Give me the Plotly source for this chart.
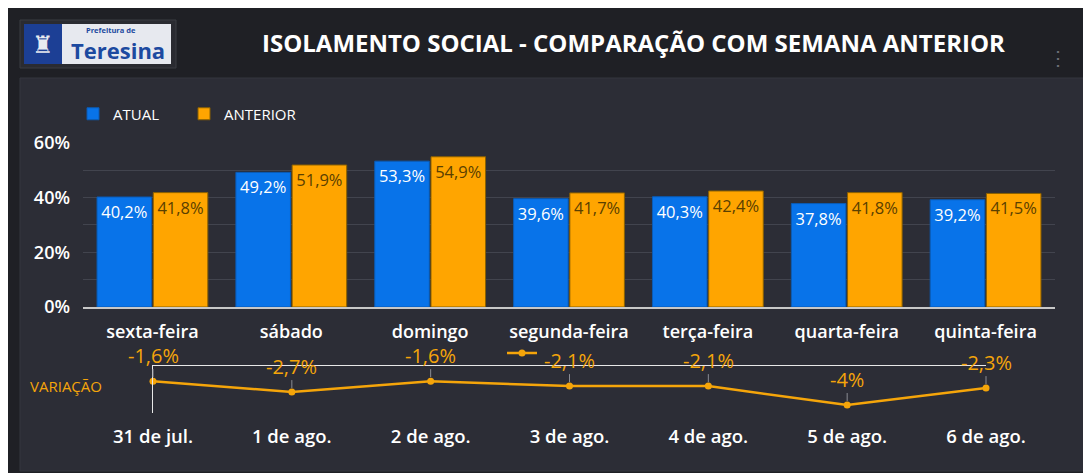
import plotly.graph_objects as go

W, H = 1091, 473

# data
dias = ["sexta-feira", "sábado", "domingo", "segunda-feira", "terça-feira", "quarta-feira", "quinta-feira"]
datas = ["31 de jul.", "1 de ago.", "2 de ago.", "3 de ago.", "4 de ago.", "5 de ago.", "6 de ago."]
atual = [40.2, 49.2, 53.3, 39.6, 40.3, 37.8, 39.2]
anterior = [41.8, 51.9, 54.9, 41.7, 42.4, 41.8, 41.5]
variacao = [-1.6, -2.7, -1.6, -2.1, -2.1, -4.0, -2.3]

BG = "#1f2025"
PANEL = "#2c2d36"
BLUE = "#0873e9"
ORANGE = "#ffa500"
LINE_OR = "#f5a50a"
FONT = "Open Sans"


def px(x):
    return x / W


def py(y):
    return 1 - y / H


def box(x0, y0, x1, y1, fill, line_color=None):
    return dict(type="rect", xref="paper", yref="paper",
                x0=px(x0), x1=px(x1), y0=py(y1), y1=py(y0),
                fillcolor=fill, layer="below",
                line=dict(color=line_color or fill, width=1 if line_color else 0))


def label(x, y, text, size, color, xanchor="center", weight=400):
    fig.add_annotation(x=px(x), y=py(y), xref="paper", yref="paper",
                       xanchor=xanchor, yanchor="middle", text=text, showarrow=False,
                       font=dict(color=color, size=size, family=FONT, weight=weight))


def legend_at(x, y, size=15):
    return dict(orientation="h", x=px(x), y=py(y), xanchor="left", yanchor="middle",
                font=dict(size=size, color="white", family=FONT),
                bgcolor="rgba(0,0,0,0)", itemwidth=30)


fig = go.Figure()

fig.add_trace(go.Bar(
    x=dias, y=atual, name="ATUAL", showlegend=True,
    marker=dict(color=BLUE, line=dict(color="#0a5bb5", width=1)),
    texttemplate="%{y:.1f}%", textposition="inside", insidetextanchor="end",
    textfont=dict(color="white", size=16.5, family=FONT),
    xaxis="x", yaxis="y", legend="legend",
))
fig.add_trace(go.Bar(
    x=dias, y=anterior, name="ANTERIOR", showlegend=True,
    marker=dict(color=ORANGE, line=dict(color="#8a6000", width=1)),
    texttemplate="%{y:.1f}%", textposition="inside", insidetextanchor="end",
    textfont=dict(color="#5a4000", size=16.5, family=FONT),
    xaxis="x", yaxis="y", legend="legend3",
))

# variação (linha)
fig.add_trace(go.Scatter(
    x=datas, y=variacao, name=" ", mode="lines+markers", showlegend=True,
    line=dict(color=LINE_OR, width=2.5), marker=dict(color=LINE_OR, size=7),
    cliponaxis=False, xaxis="x2", yaxis="y2", legend="legend2",
))

for d, v in zip(datas, variacao):
    fig.add_annotation(
        x=d, y=v, xref="x2", yref="y2",
        text=f"{v:g}%".replace(".", ","),
        showarrow=True, arrowhead=0, arrowwidth=1, arrowcolor="#8a8c94",
        ax=0, ay=-26, standoff=4, borderpad=0,
        font=dict(color=LINE_OR, size=20, family=FONT),
    )

label(20, 378, "VARIAÇÃO", 15, LINE_OR, xanchor="left")
label(625, 35, "ISOLAMENTO SOCIAL - COMPARAÇÃO COM SEMANA ANTERIOR", 24, "white", weight=700)
label(1050, 50, "⋮", 20, "#6c6e75")

# logo
label(76, 22, "Prefeitura de", 7.5, "#1d4aa0", xanchor="left", weight=700)
label(110, 42, "Teresina", 22, "#1d4aa0", weight=700)
label(35, 36, "♜", 24, "#e8eaf0")

shapes = [
    box(12, 70, 1077, 463, PANEL, "#34363f"),
    box(12, 12, 168, 60, "#2a2b31", "#3b3c43"),
    box(54, 16, 163, 56, "#e7e9ef"),
    box(16, 16, 54, 56, "#1c3f95"),
    box(28, 468, 165, 480, PANEL, "#3b3c43"),
]

tick_font = dict(size=18, color="white", family=FONT, weight=600)

fig.update_layout(
    width=W, height=H,
    margin=dict(l=0, r=0, t=0, b=0, autoexpand=False),
    paper_bgcolor=BG, plot_bgcolor="rgba(0,0,0,0)",
    separators=",.",
    showlegend=True,
    barmode="group", bargap=0.19, bargroupgap=0.03,
    shapes=shapes,
    font=dict(family=FONT, color="white"),
    legend=legend_at(65, 106),
    legend3=legend_at(176, 106),
    legend2=legend_at(494, 345, size=12),
    xaxis=dict(domain=[px(75), px(1047)], anchor="y", type="category", automargin=False,
               showline=True, linecolor="#c8c8c8", linewidth=2, showgrid=False,
               tickfont=tick_font, ticklabelstandoff=7, fixedrange=True),
    yaxis=dict(domain=[py(299), py(134)], anchor="x", range=[0, 60.3], automargin=False,
               dtick=20, ticksuffix="%", gridcolor="#42444e", gridwidth=1,
               minor=dict(dtick=10, showgrid=True, gridcolor="#42444e", gridwidth=1),
               zeroline=False, tickfont=tick_font, ticklabelstandoff=12),
    xaxis2=dict(domain=[px(145), px(978)], anchor="y2", type="category", range=[0, 6],
                automargin=False, showline=False, showgrid=False, zeroline=False,
                tickfont=dict(size=18.5, color="white", family=FONT, weight=600),
                ticklabelstandoff=10),
    yaxis2=dict(domain=[py(405), py(357)], anchor="x2", range=[-4.8, 0.02], automargin=False,
                showgrid=False, showticklabels=False, zeroline=True,
                zerolinecolor="#e8e8e8", zerolinewidth=1,
                showline=True, linecolor="#e8e8e8", linewidth=1),
)

fig.write_html("out.html")
